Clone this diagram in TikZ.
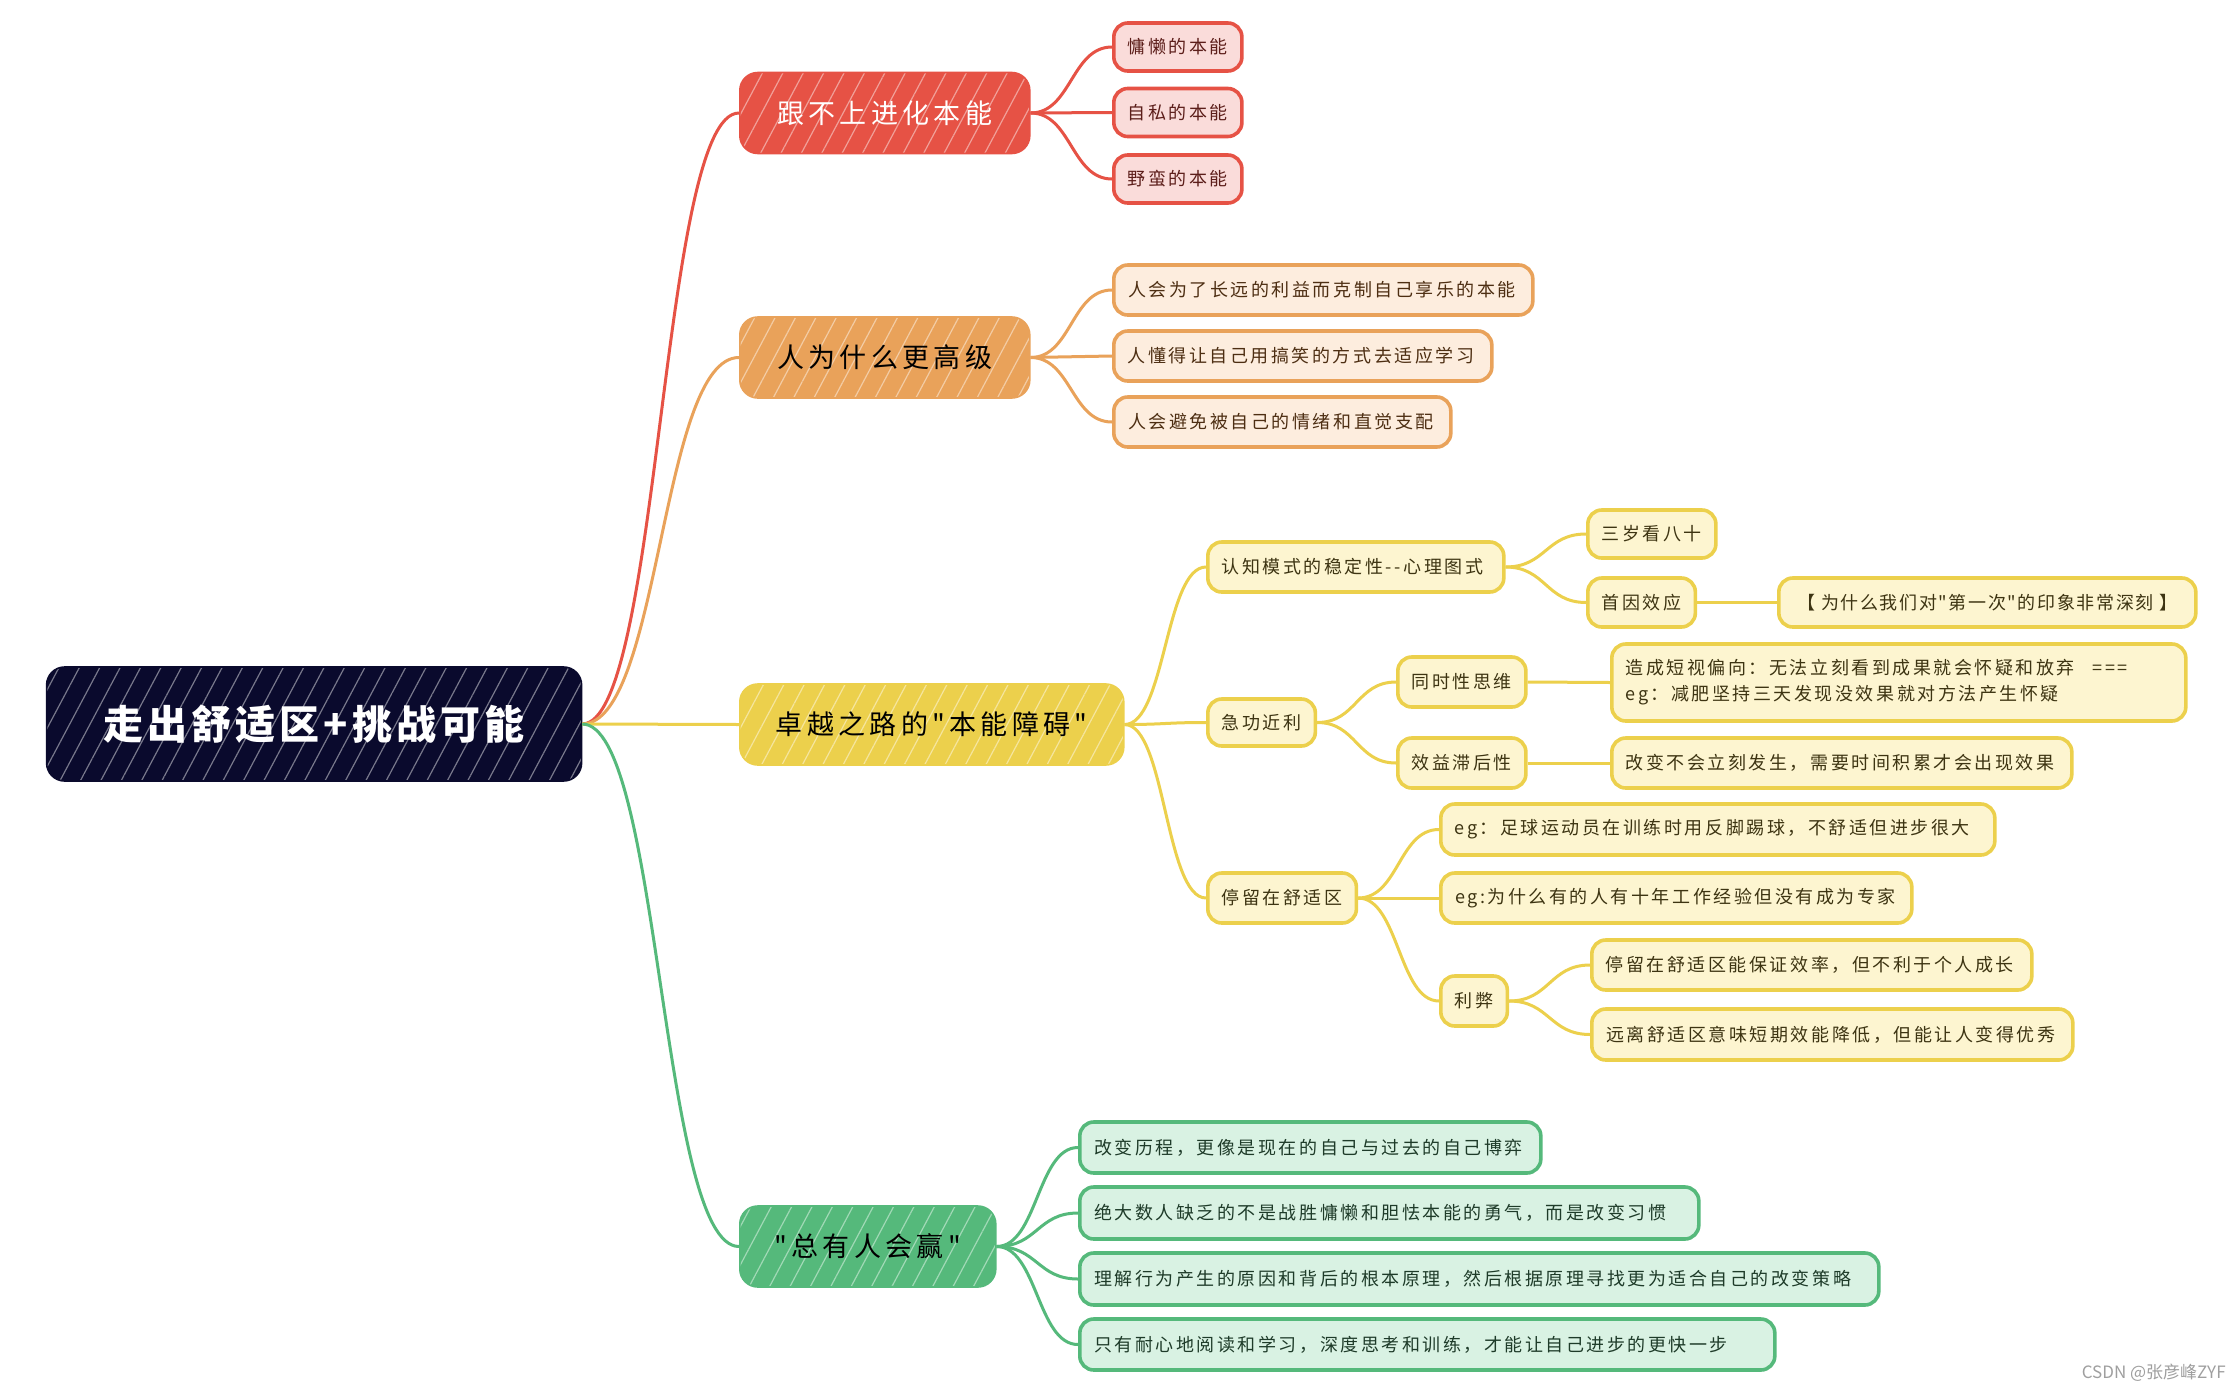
\documentclass[tikz,border=0pt]{standalone}
\usepackage{fontspec}
\setmainfont{Noto Sans CJK SC}[Ligatures=TeXOff]
\usetikzlibrary{calc,patterns.meta}
\definecolor{rootc}{HTML}{0A0A2D}
\definecolor{redmain}{HTML}{E65245}
\definecolor{orgmain}{HTML}{E9A25A}
\definecolor{yelmain}{HTML}{ECD04C}
\definecolor{grnmain}{HTML}{55B97B}
\definecolor{redlight}{HTML}{FADCDA}
\definecolor{orglight}{HTML}{FDEDDE}
\definecolor{yellight}{HTML}{FDF5D0}
\definecolor{grnlight}{HTML}{D9F2E3}
\definecolor{redtext}{HTML}{5C1E1A}
\definecolor{orgtext}{HTML}{4D2E12}
\definecolor{yeltext}{HTML}{3D3412}
\definecolor{grntext}{HTML}{1E3B29}
\newcommand\leaffont{\fontsize{9}{13}\selectfont\addfontfeatures{LetterSpace=14}}
\newcommand\mainfontsz{\fontsize{13.5}{16}\selectfont\addfontfeatures{LetterSpace=16}}
\newcommand\rootfontsz{\fontsize{20}{24}\selectfont\bfseries\addfontfeatures{LetterSpace=10}}
\newcommand\lefttext[2]{\makebox[#1][l]{#2}}
\newcommand\mmconn[3]{\draw[#1] let \p1=(#2.east), \p2=(#3.west) in (\p1) .. controls ({0.5*\x1+0.5*\x2},\y1) and ({0.5*\x1+0.5*\x2},\y2) .. (\p2);}
\tikzset{
  hatchbox/.style={rounded corners=9pt, draw=#1, line width=0.8pt, preaction={fill=#1},
    pattern={Lines[angle=62,distance=9pt,line width=0.6pt]}, pattern color=white!45!#1,
    anchor=west, inner sep=2pt},
  rootbox/.style={hatchbox=rootc, text=white, font=\rootfontsz},
  mainbox/.style={hatchbox=#1, font=\mainfontsz, minimum height=40.5pt},
  leafbase/.style={rounded corners=7pt, line width=1.8pt, anchor=west, inner xsep=7pt,
    inner ysep=2pt, font=\leaffont, minimum height=25pt},
  redleaf/.style={leafbase, draw=redmain, fill=redlight, text=redtext, minimum height=24pt},
  orgleaf/.style={leafbase, draw=orgmain, fill=orglight, text=orgtext},
  yelleaf/.style={leafbase, draw=yelmain, fill=yellight, text=yeltext},
  grnleaf/.style={leafbase, draw=grnmain, fill=grnlight, text=grntext, minimum height=25.5pt},
  cred/.style={draw=redmain, line width=1.5pt},
  corg/.style={draw=orgmain, line width=1.5pt},
  cyel/.style={draw=yelmain, line width=1.5pt},
  cgrn/.style={draw=grnmain, line width=1.5pt}
}
\begin{document}
\begin{tikzpicture}[x=0.5pt,y=-0.5pt]
\useasboundingbox (0,0) rectangle (2238,1392);
\fill[white] (0,0) rectangle (2238,1392);

% root
\node[rootbox, minimum width=267.5pt, minimum height=57pt] (root) at (46,724) {走出舒适区+挑战可能};

% main branches
\node[mainbox=redmain, text=white, minimum width=145pt] (m1) at (739,113) {跟不上进化本能};
\node[mainbox=orgmain, text=black, minimum width=145pt] (m2) at (739,357.5) {人为什么更高级};
\node[mainbox=yelmain, text=black, minimum width=192pt] (m3) at (739,724.5) {卓越之路的"本能障碍"};
\node[mainbox=grnmain, text=black, minimum width=128pt] (m4) at (739,1246.5) {"总有人会赢"};

% red leaves
\node[redleaf, minimum width=64pt] (r1) at (1112,47) {慵懒的本能};
\node[redleaf, minimum width=64pt] (r2) at (1112,112.5) {自私的本能};
\node[redleaf, minimum width=64pt] (r3) at (1112,179) {野蛮的本能};

% orange leaves
\node[orgleaf, minimum width=209.5pt] (o1) at (1112,290) {\lefttext{195pt}{人会为了长远的利益而克制自己享乐的本能}};
\node[orgleaf, minimum width=189pt] (o2) at (1112,356) {\lefttext{175pt}{人懂得让自己用搞笑的方式去适应学习}};
\node[orgleaf, minimum width=168.5pt] (o3) at (1112,422) {\lefttext{154pt}{人会避免被自己的情绪和直觉支配}};

% yellow subtree
\node[yelleaf, minimum width=148pt] (y1) at (1206,567) {\lefttext{134pt}{认知模式的稳定性--心理图式}};
\node[yelleaf, minimum width=63.5pt, minimum height=24pt] (y11) at (1586,534) {三岁看八十};
\node[yelleaf, minimum width=53.5pt, minimum height=24.5pt] (y12) at (1586,602.5) {首因效应};
\node[yelleaf, minimum width=208.5pt, minimum height=24.5pt] (y121) at (1777,602.5) {\addfontfeatures{LetterSpace=9}【 为什么我们对"第一次"的印象非常深刻 】};
\node[yelleaf, minimum width=53.5pt, minimum height=23.5pt] (y2) at (1206,722.5) {急功近利};
\node[yelleaf, minimum width=64pt] (y21) at (1396,682) {同时性思维};
\node[yelleaf, text width=273pt, align=left, minimum height=38.5pt] (y211) at (1610,682.5) {造成短视偏向：无法立刻看到成果就会怀疑和放弃\quad ===\\eg：减肥坚持三天发现没效果就对方法产生怀疑};
\node[yelleaf, minimum width=64pt] (y22) at (1396,763) {效益滞后性};
\node[yelleaf, minimum width=230pt] (y221) at (1610,763) {\lefttext{216pt}{改变不会立刻发生，需要时间积累才会出现效果}};
\node[yelleaf, minimum width=73.5pt] (y3) at (1206,898) {停留在舒适区};
\node[yelleaf, minimum width=277pt, minimum height=25.5pt] (y31) at (1439,829.5) {\lefttext{263pt}{eg：足球运动员在训练时用反脚踢球，不舒适但进步很大}};
\node[yelleaf, minimum width=235.5pt] (y32) at (1439,898) {\lefttext{221pt}{eg:为什么有的人有十年工作经验但没有成为专家}};
\node[yelleaf, minimum width=32.5pt] (y33) at (1439,1001) {利弊};
\node[yelleaf, minimum width=220pt] (y331) at (1590,965) {\lefttext{206pt}{停留在舒适区能保证效率，但不利于个人成长}};
\node[yelleaf, minimum width=240.5pt, minimum height=25.5pt] (y332) at (1590,1034.5) {\lefttext{226pt}{远离舒适区意味短期效能降低，但能让人变得优秀}};

% green leaves
\node[grnleaf, minimum width=230.5pt] (g1) at (1078,1147.5) {\lefttext{216pt}{改变历程，更像是现在的自己与过去的自己博弈}};
\node[grnleaf, minimum width=309.5pt, minimum height=26pt] (g2) at (1078,1213) {\lefttext{295pt}{绝大数人缺乏的不是战胜慵懒和胆怯本能的勇气，而是改变习惯}};
\node[grnleaf, minimum width=399.5pt, minimum height=26pt] (g3) at (1078,1279) {\lefttext{385pt}{理解行为产生的原因和背后的根本原理，然后根据原理寻找更为适合自己的改变策略}};
\node[grnleaf, minimum width=347.5pt] (g4) at (1078,1344.5) {\lefttext{333pt}{只有耐心地阅读和学习，深度思考和训练，才能让自己进步的更快一步}};

% connectors
\mmconn{cred}{root}{m1}
\mmconn{corg}{root}{m2}
\mmconn{cyel}{root}{m3}
\mmconn{cgrn}{root}{m4}
\mmconn{cred}{m1}{r1}
\mmconn{cred}{m1}{r2}
\mmconn{cred}{m1}{r3}
\mmconn{corg}{m2}{o1}
\mmconn{corg}{m2}{o2}
\mmconn{corg}{m2}{o3}
\mmconn{cyel}{m3}{y1}
\mmconn{cyel}{m3}{y2}
\mmconn{cyel}{m3}{y3}
\mmconn{cyel}{y1}{y11}
\mmconn{cyel}{y1}{y12}
\mmconn{cyel}{y12}{y121}
\mmconn{cyel}{y2}{y21}
\mmconn{cyel}{y2}{y22}
\mmconn{cyel}{y21}{y211}
\mmconn{cyel}{y22}{y221}
\mmconn{cyel}{y3}{y31}
\mmconn{cyel}{y3}{y32}
\mmconn{cyel}{y3}{y33}
\mmconn{cyel}{y33}{y331}
\mmconn{cyel}{y33}{y332}
\mmconn{cgrn}{m4}{g1}
\mmconn{cgrn}{m4}{g2}
\mmconn{cgrn}{m4}{g3}
\mmconn{cgrn}{m4}{g4}

% watermark
\node[anchor=east, font=\fontsize{8.5}{10}\selectfont, text=gray!75, inner sep=0pt] (wm) at (2226,1373) {CSDN @张彦峰ZYF};
\end{tikzpicture}
\end{document}
